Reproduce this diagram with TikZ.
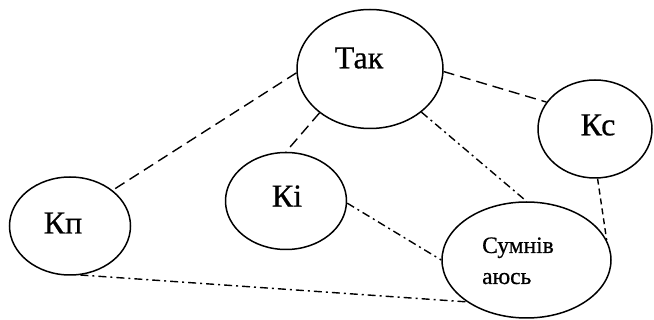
\documentclass[tikz,border=0pt]{standalone}
\usepackage{fontspec}
\newfontfamily\tnr{LiberationSerif-Regular.ttf}[FakeBold=0.6]
\usetikzlibrary{shapes.geometric}
\begin{document}
\begin{tikzpicture}[x=1pt,y=-1pt,
  oval/.style={draw,ellipse,line width=1.5pt,inner sep=0pt},
  big/.style={font=\tnr\fontsize{32}{36}\selectfont,inner sep=0pt},
  small/.style={font=\tnr\fontsize{23.5}{28}\selectfont,inner sep=0pt,anchor=base west},
  dashline/.style={line width=1.4pt,dash pattern=on 11pt off 6pt},
  shortdash/.style={line width=1.4pt,dash pattern=on 6pt off 4pt},
  dashdot/.style={line width=1.4pt,dash pattern=on 8pt off 4pt on 2pt off 4pt}]
\useasboundingbox[fill=white] (0,0) rectangle (654,320);
\node[oval,minimum width=146pt,minimum height=119pt] (tak) at (370,69) {};
\node[oval,minimum width=121pt,minimum height=98pt] (kp) at (70,226) {};
\node[oval,minimum width=121pt,minimum height=97pt] (ki) at (286,201) {};
\node[oval,minimum width=114pt,minimum height=98pt] (ks) at (595,129) {};
\node[oval,minimum width=169pt,minimum height=116pt] (sum) at (526.5,260) {};
\node[big] (taktext) at (359,58) {Так};
\node[big] (kptext) at (63,223) {Кп};
\node[big] (kitext) at (287,196) {Кі};
\node[big] (kstext) at (598,125) {Кс};
\node[small] (sum1) at (482,253) {Сумнів};
\node[small] (sum2) at (482,284) {аюсь};
\draw[dashline] (tak.183) -- (kp.40);
\draw[dashline] (tak.221) -- (ki.90);
\draw[dashline] (tak.358) -- (ks.151);
\draw[dashdot] (tak.320) -- (sum.90);
\draw[dashdot] (ki.358) -- (sum.180);
\draw[shortdash] (ks.273) -- (sum.14);
\draw[dashdot] (kp.282) -- (sum.215);
\end{tikzpicture}
\end{document}
